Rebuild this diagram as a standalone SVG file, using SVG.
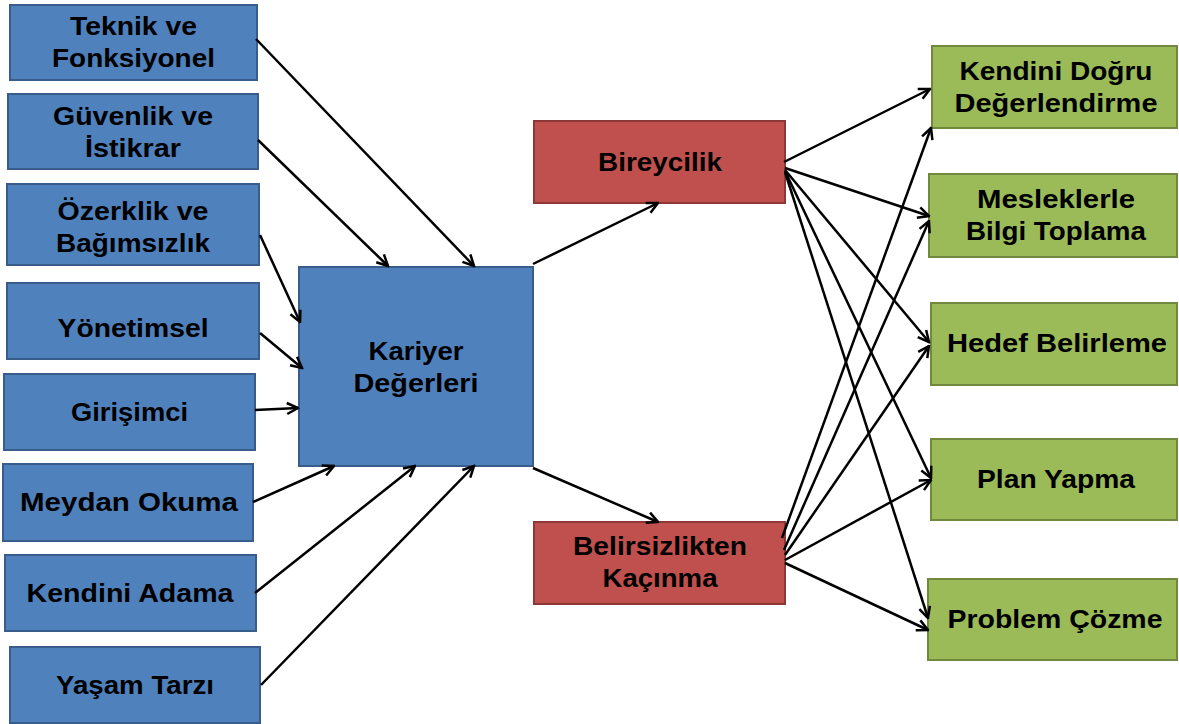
<svg xmlns="http://www.w3.org/2000/svg" width="1179" height="724" viewBox="0 0 1179 724">
<defs>
<style>
.b{fill:#4F81BD;stroke:#385D8A;stroke-width:2}
.r{fill:#C0504D;stroke:#8C3836;stroke-width:2}
.g{fill:#9BBB59;stroke:#71893F;stroke-width:2}
text{font-family:"Liberation Sans",Arial,sans-serif;font-weight:bold;font-size:25px;fill:#000;text-anchor:middle}
.c line{stroke:#000;stroke-width:2.5;marker-end:url(#ah)}
</style>
<marker id="ah" viewBox="0 0 14 14" refX="12.5" refY="7" markerWidth="14" markerHeight="14" markerUnits="userSpaceOnUse" orient="auto">
<path d="M1.5,1.5 L12.5,7 L1.5,12.5" fill="none" stroke="#000" stroke-width="2.5"/>
</marker>
</defs>
<rect width="1179" height="724" fill="#fff"/>

<g id="n-teknik"><rect class="b" x="10" y="5" width="247" height="75"/>
<text x="133.5" y="35" textLength="127" lengthAdjust="spacingAndGlyphs">Teknik ve</text>
<text x="133.5" y="67" textLength="163" lengthAdjust="spacingAndGlyphs">Fonksiyonel</text></g>
<g id="n-guvenlik"><rect class="b" x="8" y="94" width="250" height="75"/>
<text x="133" y="125" textLength="160" lengthAdjust="spacingAndGlyphs">Güvenlik ve</text>
<text x="133" y="157" textLength="96" lengthAdjust="spacingAndGlyphs">İstikrar</text></g>
<g id="n-ozerklik"><rect class="b" x="7" y="184" width="252" height="81"/>
<text x="133" y="220" textLength="151" lengthAdjust="spacingAndGlyphs">Özerklik ve</text>
<text x="133" y="252" textLength="154" lengthAdjust="spacingAndGlyphs">Bağımsızlık</text></g>
<g id="n-yonetimsel"><rect class="b" x="7" y="283" width="252" height="76"/>
<text x="133" y="337" textLength="151" lengthAdjust="spacingAndGlyphs">Yönetimsel</text></g>
<g id="n-girisimci"><rect class="b" x="4" y="374" width="251" height="76"/>
<text x="129.5" y="421" textLength="117" lengthAdjust="spacingAndGlyphs">Girişimci</text></g>
<g id="n-meydan"><rect class="b" x="3" y="464" width="250" height="77"/>
<text x="129" y="511" textLength="218" lengthAdjust="spacingAndGlyphs">Meydan Okuma</text></g>
<g id="n-kendini-adama"><rect class="b" x="5" y="555" width="251" height="76"/>
<text x="130" y="602" textLength="207" lengthAdjust="spacingAndGlyphs">Kendini Adama</text></g>
<g id="n-yasam"><rect class="b" x="10" y="647" width="250" height="76"/>
<text x="135" y="694" textLength="158" lengthAdjust="spacingAndGlyphs">Yaşam Tarzı</text></g>

<g id="n-kariyer"><rect class="b" x="299" y="267" width="234" height="199"/>
<text x="416" y="360" textLength="95" lengthAdjust="spacingAndGlyphs">Kariyer</text>
<text x="416" y="392" textLength="125" lengthAdjust="spacingAndGlyphs">Değerleri</text></g>

<g id="n-bireycilik"><rect class="r" x="534" y="121" width="251" height="82"/>
<text x="660" y="171" textLength="124" lengthAdjust="spacingAndGlyphs">Bireycilik</text></g>
<g id="n-belirsizlik"><rect class="r" x="534" y="522" width="251" height="82"/>
<text x="660" y="555" textLength="174" lengthAdjust="spacingAndGlyphs">Belirsizlikten</text>
<text x="660" y="587" textLength="115" lengthAdjust="spacingAndGlyphs">Kaçınma</text></g>

<g id="n-kendini-dogru"><rect class="g" x="932" y="46" width="245" height="82"/>
<text x="1056" y="80" textLength="193" lengthAdjust="spacingAndGlyphs">Kendini Doğru</text>
<text x="1056" y="112" textLength="203" lengthAdjust="spacingAndGlyphs">Değerlendirme</text></g>
<g id="n-meslek"><rect class="g" x="929" y="174" width="248" height="83"/>
<text x="1056" y="208" textLength="158" lengthAdjust="spacingAndGlyphs">Mesleklerle</text>
<text x="1056" y="240" textLength="180" lengthAdjust="spacingAndGlyphs">Bilgi Toplama</text></g>
<g id="n-hedef"><rect class="g" x="931" y="303" width="246" height="82"/>
<text x="1057" y="352" textLength="220" lengthAdjust="spacingAndGlyphs">Hedef Belirleme</text></g>
<g id="n-plan"><rect class="g" x="931" y="439" width="246" height="81"/>
<text x="1056" y="488" textLength="158" lengthAdjust="spacingAndGlyphs">Plan Yapma</text></g>
<g id="n-problem"><rect class="g" x="928" y="579" width="249" height="81"/>
<text x="1055" y="628" textLength="215" lengthAdjust="spacingAndGlyphs">Problem Çözme</text></g>

<g id="connectors" class="c">
<line x1="256" y1="39" x2="474" y2="266"/>
<line x1="258" y1="140" x2="388" y2="266"/>
<line x1="260" y1="235" x2="300" y2="322"/>
<line x1="260" y1="333" x2="302" y2="368"/>
<line x1="255" y1="410" x2="298" y2="408"/>
<line x1="253" y1="502" x2="334" y2="466"/>
<line x1="255" y1="593" x2="415" y2="466"/>
<line x1="261" y1="685" x2="474" y2="466"/>
<line x1="533" y1="264" x2="658" y2="203"/>
<line x1="533" y1="468" x2="658" y2="522"/>
<line x1="784" y1="162" x2="930" y2="89"/>
<line x1="785" y1="168" x2="929" y2="216"/>
<line x1="785" y1="170" x2="929" y2="342"/>
<line x1="785" y1="171" x2="931" y2="478"/>
<line x1="785" y1="172" x2="928" y2="618"/>
<line x1="782" y1="538" x2="931" y2="128"/>
<line x1="784" y1="550" x2="929" y2="221"/>
<line x1="785" y1="555" x2="929" y2="346"/>
<line x1="785" y1="560" x2="931" y2="480"/>
<line x1="785" y1="563" x2="928" y2="630"/>
</g>
</svg>
